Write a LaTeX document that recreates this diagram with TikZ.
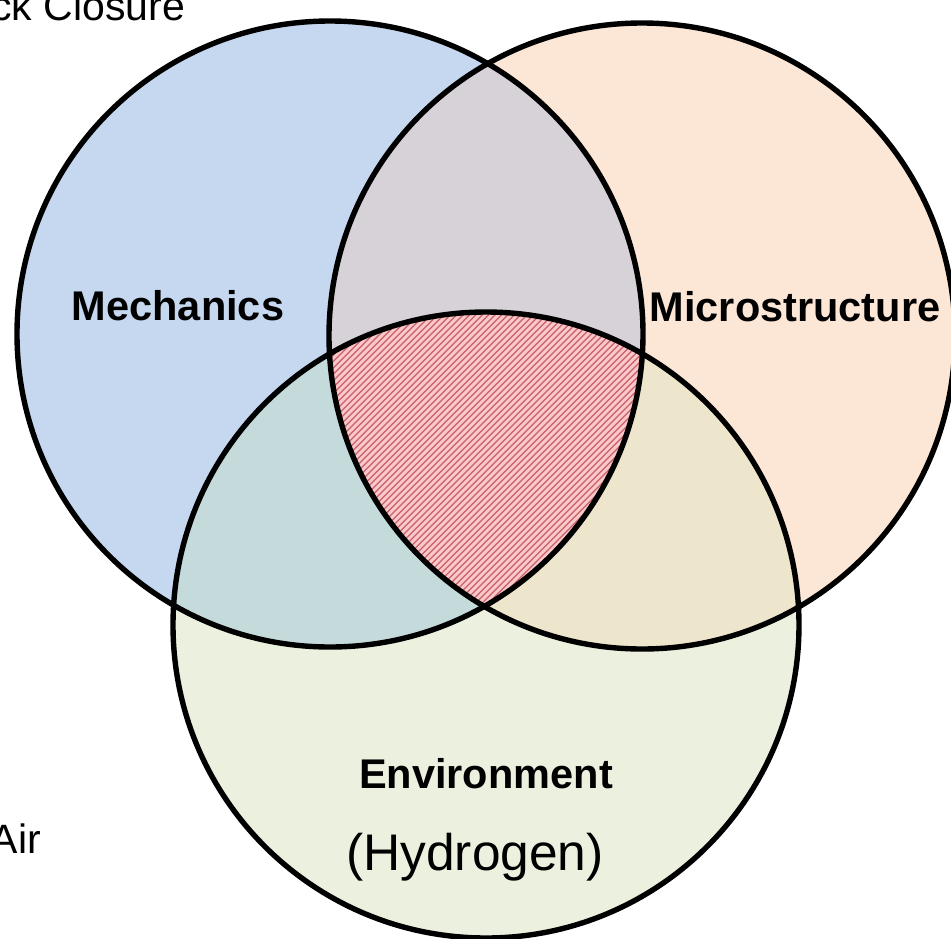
\documentclass[tikz,border=0pt]{standalone}
\usepackage{fontspec}
\setmainfont{Liberation Sans}
\definecolor{mechblue}{HTML}{C6D8EF}
\definecolor{micropeach}{HTML}{FCE6D6}
\definecolor{envgreen}{HTML}{EBF1DE}
\definecolor{mechmicro}{HTML}{D7D2D8}
\definecolor{mechenv}{HTML}{C5DADB}
\definecolor{microenv}{HTML}{EEE6CC}
\definecolor{corepink}{HTML}{FAC8C8}
\definecolor{corehatch}{HTML}{C9606C}
\begin{document}
\begin{tikzpicture}[x=1pt,y=-1pt,
  ring/.style={draw=black,line width=5.4pt},
  setlabel/.style={font=\fontsize{41.5}{44}\selectfont\bfseries,inner sep=0pt,anchor=base},
  sidetext/.style={font=\fontsize{41}{44}\selectfont,inner sep=0pt,anchor=base},
]
\useasboundingbox (0,0) rectangle (951,938);
\fill[white] (0,0) rectangle (951,938);

% circle centres and common radius
\def\rr{313}
\coordinate (cM) at (330,334);
\coordinate (cS) at (642,336);
\coordinate (cE) at (486,625);

% single-set fills
\fill[mechblue]   (cM) circle (\rr);
\fill[micropeach] (cS) circle (\rr);
\fill[envgreen]   (cE) circle (\rr);

% pairwise overlaps
\begin{scope}
  \clip (cM) circle (\rr);
  \fill[mechmicro] (cS) circle (\rr);
  \fill[mechenv]   (cE) circle (\rr);
\end{scope}
\begin{scope}
  \clip (cS) circle (\rr);
  \fill[microenv] (cE) circle (\rr);
\end{scope}

% triple overlap with diagonal hatching
\begin{scope}
  \clip (cM) circle (\rr);
  \clip (cS) circle (\rr);
  \clip (cE) circle (\rr);
  \fill[corepink] (300,280) rectangle (680,620);
  \foreach \k in {0,...,160} {
    \draw[corehatch,line width=1.25pt] ({\k*6.4},650) -- ({\k*6.4+400},250);
  }
\end{scope}

% outlines
\draw[ring] (cM) circle (\rr);
\draw[ring] (cS) circle (\rr);
\draw[ring] (cE) circle (\rr);

% labels
\node[setlabel] (mech)  at (178,320) {Mechanics};
\node[setlabel] (micro) at (795,321) {Microstructure};
\node[setlabel] (env)   at (486,788) {Environment};
\node[font=\fontsize{51.5}{54}\selectfont,inner sep=0pt,anchor=base] (hyd) at (475,870) {(Hydrogen)};

% text running in from the left edge
\node[sidetext,anchor=base west] (closure) at (-9,20) {ck Closure};
\node[sidetext,anchor=base east] (air) at (41,853) {Air};
\end{tikzpicture}
\end{document}
